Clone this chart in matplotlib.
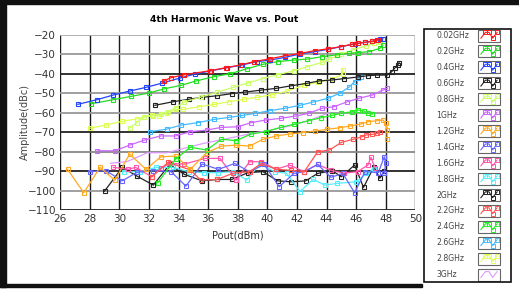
import matplotlib
matplotlib.use("Agg")
import matplotlib.pyplot as plt
from matplotlib.patches import Rectangle

labels = ["0.02GHz", "0.2GHz", "0.4GHz", "0.6GHz", "0.8GHz", "1GHz", "1.2GHz", "1.4GHz",
          "1.6GHz", "1.8GHz", "2GHz", "2.2GHz", "2.4GHz", "2.6GHz", "2.8GHz", "3GHz"]
colors = ["#ff1a1a", "#22dd22", "#2244ff", "#222222", "#ccff66", "#cc66ff", "#ffaa22", "#6666ff",
          "#ff55aa", "#55eeff", "#222222", "#ff5555", "#22ee22", "#44bbff", "#ddff55", "#dd99ff"]
markers = ["s"] * 15 + [None]

x_002 = [33.0, 33.5, 34.4, 36.1, 37.2, 38.2, 39.1, 40.2, 41.2, 42.2, 43.2, 44.1, 45.0, 45.7, 46.1, 46.6, 47.1, 47.5]
y_002 = [-43.7, -42.0, -40.5, -38.5, -36.9, -35.5, -33.8, -32.3, -30.8, -29.6, -28.2, -27.2, -26.1, -24.9, -24.4, -23.9, -23.4, -22.7]

x_02 = [28.1, 29.6, 30.8, 32.0, 33.0, 34.2, 35.2, 36.4, 37.5, 38.6, 39.7, 40.7, 41.8, 42.7, 43.7, 44.7, 45.5, 46.1, 46.9, 47.6, 47.8]
y_02 = [-55.4, -53.3, -51.6, -49.9, -47.8, -45.9, -43.7, -41.5, -40.0, -37.5, -35.2, -33.8, -33.0, -32.5, -31.3, -30.3, -29.6, -29.2, -28.7, -27.0, -25.3]

x_04 = [27.2, 28.5, 29.6, 30.7, 31.8, 32.9, 34.1, 35.1, 36.2, 37.3, 38.3, 39.3, 40.2, 41.2, 42.2, 43.2, 44.1, 45.0, 45.9, 46.6, 47.1, 47.4, 47.6, 47.8]
y_04 = [-55.7, -53.3, -50.9, -48.9, -47.0, -44.8, -42.2, -40.2, -38.5, -36.9, -35.5, -33.8, -33.0, -31.6, -29.9, -28.7, -27.5, -26.1, -24.8, -23.9, -23.4, -22.7, -22.2, -22.0]

x_06 = [32.4, 33.6, 34.7, 35.6, 36.6, 37.6, 38.5, 39.6, 40.6, 41.6, 42.7, 43.5, 44.4, 45.2, 46.1, 46.8, 47.4, 48.1, 48.4, 48.6, 48.8, 48.9]
y_06 = [-56.2, -54.4, -53.1, -52.1, -51.3, -50.2, -49.4, -48.4, -47.5, -46.2, -44.9, -43.7, -43.2, -42.5, -41.7, -41.0, -40.7, -40.7, -39.0, -37.2, -35.5, -34.4]

x_08 = [30.7, 31.2, 31.7, 32.3, 32.8, 33.3, 33.8, 34.4, 35.5, 36.6, 37.7, 38.7, 39.7, 40.7, 41.8, 42.7, 43.7, 44.2, 45.0, 45.8, 46.7, 47.2, 47.6]
y_08 = [-67.7, -65.0, -62.0, -61.5, -60.5, -59.5, -57.5, -54.5, -52.0, -49.5, -47.0, -44.7, -42.5, -40.5, -38.5, -36.4, -34.2, -32.5, -30.0, -27.8, -25.6, -24.4, -23.6]

x_1 = [28.5, 29.7, 30.7, 31.7, 32.8, 33.8, 34.8, 35.9, 36.9, 38.0, 38.9, 39.9, 40.9, 41.9, 42.8, 43.7, 44.5, 45.4, 46.2, 47.1, 47.8, 48.1]
y_1 = [-79.5, -79.5, -76.6, -74.0, -71.9, -71.9, -69.7, -68.9, -67.5, -67.2, -65.1, -63.7, -62.9, -61.7, -60.3, -57.7, -56.9, -54.4, -52.6, -50.9, -48.4, -47.5]

x_12 = [26.5, 27.6, 28.7, 29.7, 30.7, 31.8, 32.8, 33.8, 34.8, 35.9, 36.9, 37.9, 38.8, 39.7, 40.6, 41.5, 42.4, 43.2, 44.0, 44.9, 45.6, 46.3, 46.8, 47.4, 47.8, 48.0, 48.1, 48.1]
y_12 = [-89.0, -101.0, -88.0, -94.6, -81.2, -89.0, -82.6, -82.2, -89.0, -80.5, -77.1, -76.6, -77.1, -73.6, -71.9, -70.9, -70.2, -69.4, -68.5, -67.7, -66.8, -65.8, -64.6, -64.1, -63.7, -65.4, -68.9, -73.6]

x_14 = [28.0, 29.1, 30.2, 31.2, 32.3, 33.5, 34.5, 35.6, 36.7, 37.8, 38.8, 39.8, 40.8, 41.8, 42.5, 43.4, 44.3, 45.1, 45.9, 46.6, 47.5, 47.9, 48.0, 47.9]
y_14 = [-90.2, -89.7, -94.9, -90.5, -89.7, -90.2, -97.6, -86.3, -89.0, -86.0, -90.2, -86.5, -97.9, -91.1, -90.2, -86.5, -93.1, -91.1, -101.0, -90.2, -90.7, -82.6, -86.0, -91.1]

x_16 = [29.6, 30.6, 31.1, 32.2, 32.8, 33.4, 34.4, 35.8, 36.8, 37.9, 38.8, 39.6, 40.6, 41.5, 42.5, 43.4, 44.3, 45.2, 46.1, 46.8, 47.0, 47.3]
y_16 = [-88.0, -89.0, -88.0, -92.8, -88.5, -86.0, -86.3, -83.4, -83.4, -94.5, -85.1, -85.1, -89.0, -86.8, -90.2, -86.5, -89.5, -91.0, -90.2, -86.8, -82.9, -88.5]

x_18 = [30.3, 31.4, 32.5, 33.6, 34.7, 35.7, 36.7, 37.7, 38.6, 39.5, 40.5, 41.3, 42.2, 43.1, 43.9, 44.7, 46.0, 46.7, 47.2]
y_18 = [-90.2, -90.2, -88.0, -88.0, -90.2, -90.7, -90.7, -90.2, -94.5, -86.3, -90.2, -91.0, -100.4, -94.2, -97.1, -96.2, -95.4, -91.1, -89.0]

x_2 = [29.0, 30.2, 31.2, 32.3, 33.4, 34.4, 35.6, 36.6, 37.6, 38.7, 39.7, 40.7, 41.6, 42.6, 43.4, 44.4, 45.0, 45.9, 46.5, 47.2, 47.6, 47.9]
y_2 = [-100.2, -88.0, -92.5, -97.1, -86.5, -91.6, -94.9, -94.2, -94.2, -90.7, -90.2, -94.9, -95.4, -94.9, -91.1, -89.7, -92.8, -86.8, -98.3, -87.7, -93.6, -90.0]

x_22 = [32.2, 33.3, 34.8, 35.5, 36.6, 37.7, 38.8, 39.6, 40.6, 41.6, 42.5, 43.4, 44.2, 45.0, 45.8, 46.4, 46.7, 47.1, 47.4, 47.6]
y_22 = [-92.8, -85.4, -89.3, -94.5, -94.2, -91.0, -90.2, -86.0, -89.0, -89.5, -90.2, -80.0, -79.1, -75.2, -73.6, -72.3, -71.4, -71.1, -70.6, -69.7]

x_24 = [32.6, 33.8, 34.8, 35.9, 36.9, 37.9, 38.9, 39.9, 40.9, 41.8, 42.8, 43.6, 44.4, 45.0, 45.7, 46.1, 46.5, 46.8, 47.1]
y_24 = [-95.8, -83.8, -77.7, -79.1, -73.6, -74.3, -70.9, -69.7, -67.5, -65.9, -64.1, -62.6, -61.3, -60.3, -59.5, -58.6, -59.0, -60.3, -60.7]

x_26 = [32.1, 33.2, 34.2, 35.3, 36.4, 37.4, 38.3, 39.2, 40.2, 41.2, 42.2, 43.1, 44.1, 44.9, 45.5, 45.9, 46.1, 46.3]
y_26 = [-69.7, -68.4, -66.3, -65.1, -63.4, -62.4, -61.4, -60.3, -58.9, -57.7, -56.2, -54.5, -52.6, -50.0, -47.0, -44.1, -42.4, -41.5]

x_28 = [28.0, 29.1, 30.2, 31.2, 32.2, 32.7, 33.2, 33.8, 34.3, 35.4, 36.4, 37.4, 38.4, 39.3, 40.3, 41.3, 42.5, 43.4, 44.4, 45.1, 45.1]
y_28 = [-68.0, -66.3, -64.4, -63.1, -61.2, -61.7, -60.3, -58.3, -58.3, -56.9, -55.7, -54.4, -53.1, -52.1, -50.8, -49.0, -45.8, -44.4, -42.7, -40.3, -38.1]

x_3 = [29.4, 30.5, 31.9, 33.2, 34.5, 35.7, 36.8, 37.9, 39.0, 40.2, 41.5, 42.8, 44.2]
y_3 = [-85.9, -85.1, -80.5, -80.5, -78.0, -75.7, -74.0, -72.3, -70.5, -68.9, -66.8, -64.0, -60.0]

xs = [x_002, x_02, x_04, x_06, x_08, x_1, x_12, x_14, x_16, x_18, x_2, x_22, x_24, x_26, x_28, x_3]
ys = [y_002, y_02, y_04, y_06, y_08, y_1, y_12, y_14, y_16, y_18, y_2, y_22, y_24, y_26, y_28, y_3]

x_ticks = list(range(26, 51, 2))
y_ticks = list(range(-110, -19, 10))

W, H = 519, 290
fig = plt.figure(figsize=(W / 100, H / 100), dpi=100)
fig.patch.set_facecolor("white")
ax = fig.add_axes([60.1 / W, 1 - 210.3 / H, (415.3 - 60.1) / W, (210.3 - 34.7) / H])

order = [15, 10, 9, 8, 7, 11, 6, 12, 5, 13, 14, 3, 4, 1, 2, 0]
for i in order:
    ax.plot(xs[i], ys[i], color=colors[i], lw=0.9, marker=markers[i], ms=3.2,
            mfc="none", mec=colors[i], mew=0.8, zorder=3)

ax.set_xlim(26, 50)
ax.set_ylim(-110, -20)
ax.set_xticks(x_ticks)
ax.set_yticks(y_ticks)
ax.tick_params(length=0, labelsize=7.5, colors="#333333", pad=3)
for xv in x_ticks:
    ax.axvline(xv, color="#1a1a1a", lw=1.0, zorder=1)
hcol = {-20: "#aaaaaa", -30: "#999999", -40: "#222222", -50: "#999999", -60: "#999999",
        -70: "#222222", -80: "#888888", -90: "#222222", -100: "#999999", -110: "#222222"}
for yv in y_ticks:
    ax.axhline(yv, color=hcol[yv], lw=1.3, zorder=1)
for s in ax.spines.values():
    s.set_visible(False)
ax.set_xlabel("Pout(dBm)", fontsize=7, color="#333333", labelpad=4)
ax.set_ylabel("Amplitude(dBc)", fontsize=7, color="#444444")
ax.yaxis.set_label_coords((30 - 60.1) / 355.2, 0.5)
ax.set_title("4th Harmonic Wave vs. Pout", fontsize=6.7, fontweight="bold", pad=9, x=0.461)

ov = fig.add_axes([0, 0, 1, 1], facecolor="none")
ov.set_xlim(0, W)
ov.set_ylim(H, 0)
ov.axis("off")
ov.add_patch(Rectangle((0, 0), W, 4, color="#111111", zorder=1))
ov.add_patch(Rectangle((0, 0), 6, 287, color="#111111", zorder=1))
ov.add_patch(Rectangle((0, 284), 422, 3, color="#111111", zorder=1))
ov.add_patch(Rectangle((424, 29), 87, 253, fill=False, ec="#111111", lw=1.2, zorder=2))

zx = [0.05, 0.3, 0.5, 0.7, 0.95]
zy = [0.2, 0.85, 0.85, 0.2, 0.85]
for k, lab in enumerate(labels):
    yc = 35.5 + k * 15.95
    ov.text(436.5, yc, lab, fontsize=5.6, color="#444444", va="center", ha="left")
    bx, bw, bh = 478, 22, 12
    ov.add_patch(Rectangle((bx, yc - bh / 2), bw, bh, fill=False, ec="#666666", lw=0.8))
    px = [bx + 2 + t * (bw - 4) for t in zx]
    py = [yc + bh / 2 - 1.5 - t * (bh - 3) for t in zy]
    if markers[k]:
        ov.plot(px, py, color=colors[k], lw=0.8, marker="s", ms=2.2, mfc="none",
                mec=colors[k], mew=0.7, markevery=[1, 2, 3, 4])
    else:
        ov.plot(px, py, color=colors[k], lw=0.8)

fig.savefig("out.png", dpi=100)
